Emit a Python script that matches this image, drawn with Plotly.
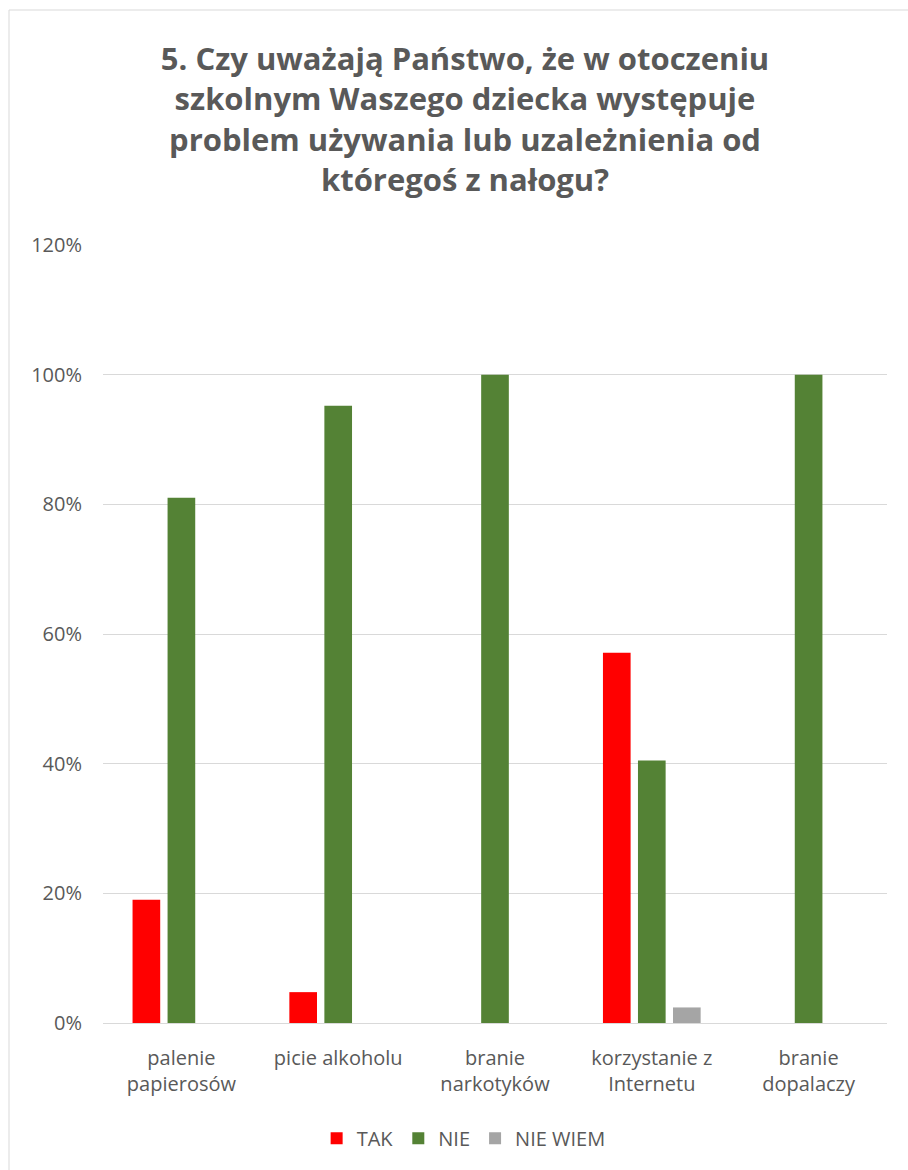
import plotly.graph_objects as go

categories = ["palenie<br>papierosów", "picie alkoholu", "branie<br>narkotyków",
              "korzystanie z<br>Internetu", "branie<br>dopalaczy"]
tak = [0.190, 0.0476, 0.0, 0.571, 0.0]
nie = [0.810, 0.952, 1.0, 0.405, 1.0]
nie_wiem = [0.0, 0.0, 0.0, 0.024, 0.0]
series_names = ["TAK", "NIE", "NIE WIEM"]
colors = ["#FF0000", "#548235", "#A5A5A5"]
y_ticks = [0, 0.2, 0.4, 0.6, 0.8, 1.0, 1.2]

title = ("5. Czy uważają Państwo, że w otoczeniu<br>szkolnym Waszego dziecka występuje"
         "<br>problem używania lub uzależnienia od<br>któregoś z nałogu?")

FONT = "Open Sans"
TXT = "#595959"

fig = go.Figure()
for name, vals, col in zip(series_names, [tak, nie, nie_wiem], colors):
    fig.add_trace(go.Bar(x=categories, y=vals, name=name, marker_color=col,
                         marker_line_width=0))

W, H = 908, 1170
L, R, T, B = 103, 21, 245, 147
pw, ph = W - L - R, H - T - B

def px_x(x):
    return (x - L) / pw

def px_y(y):
    return (H - B - y) / ph

fig.update_layout(
    width=W, height=H,
    margin=dict(l=L, r=R, t=T, b=B, pad=0),
    paper_bgcolor="white", plot_bgcolor="white",
    barmode="group", bargap=0.33, bargroupgap=0.21,
    title=dict(text=title, x=465 / W, xanchor="center", xref="container",
               y=1 - 70 / H, yanchor="top", yref="container",
               font=dict(family=FONT, size=31, color=TXT, weight="bold")),
    font=dict(family=FONT, size=20, color=TXT),
    legend=dict(orientation="h", x=0.46, xanchor="center", y=-0.123, yanchor="top",
                font=dict(family=FONT, size=20, color=TXT),
                traceorder="normal"),
    showlegend=True,
)
fig.update_yaxes(range=[0, 1.2], tickvals=y_ticks, tickformat=".0%",
                 showgrid=True, gridcolor="#D9D9D9", gridwidth=1,
                 zeroline=False, showline=False, ticks="", ticklabelstandoff=20,
                 tickfont=dict(family=FONT, size=20, color=TXT))
fig.update_xaxes(showline=True, linecolor="#D9D9D9", linewidth=1, ticks="",
                 tickfont=dict(family=FONT, size=20, color=TXT), ticklabelstandoff=17)

border = dict(color="#D9D9D9", width=1)
fig.add_shape(type="line", xref="paper", yref="paper",
              x0=px_x(9), x1=px_x(908), y0=px_y(10), y1=px_y(10), line=border)
fig.add_shape(type="line", xref="paper", yref="paper",
              x0=px_x(9), x1=px_x(9), y0=px_y(10), y1=px_y(1170), line=border)

fig.write_html("out.html", config={"displayModeBar": False},
               post_script="document.body.style.margin='0';document.body.style.overflow='hidden';")
